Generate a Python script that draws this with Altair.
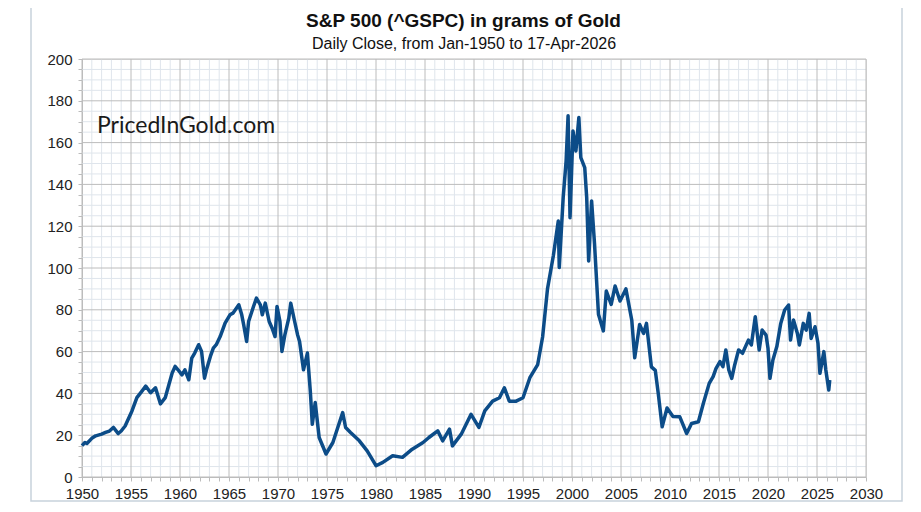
import altair as alt
import pandas as pd

# 1950-1959
years_a = [1950.0, 1950.3, 1950.5, 1951.0, 1951.4, 1952.0, 1952.4, 1952.8, 1953.2, 1953.7,
           1954.0, 1954.4, 1955.1, 1955.6, 1956.1, 1956.5, 1957.0, 1957.5, 1958.0, 1958.5,
           1959.2]
values_a = [15.0, 16.5, 16.0, 18.5, 19.7, 20.5, 21.3, 22.0, 23.7, 20.8,
            22.0, 24.4, 31.6, 38.0, 41.0, 43.5, 40.3, 42.7, 35.0, 38.0,
            49.8]
# 1959-1973
years_b = [1959.5, 1959.8, 1960.2, 1960.5, 1960.9, 1961.2, 1961.5, 1961.9, 1962.2, 1962.5,
           1962.7, 1963.1, 1963.4, 1963.7, 1964.1, 1964.6, 1965.1, 1965.4, 1966.0, 1966.3,
           1966.5, 1966.8, 1967.0, 1967.5, 1967.8, 1968.2, 1968.4, 1968.7, 1969.1, 1969.4,
           1969.7, 1969.9, 1970.2, 1970.4, 1970.7, 1971.1, 1971.3, 1971.7, 1972.0, 1972.2,
           1972.6, 1973.0, 1973.3]
values_b = [52.9, 51.3, 48.9, 51.3, 46.5, 56.9, 59.3, 63.3, 60.1, 47.3,
            51.3, 57.7, 61.7, 63.3, 67.2, 73.6, 77.6, 78.4, 82.4, 77.6,
            72.8, 64.8, 74.4, 81.6, 85.6, 82.4, 77.6, 83.2, 74.4, 71.2,
            67.2, 81.6, 74.4, 60.1, 68.0, 76.0, 83.2, 74.4, 68.0, 64.8,
            51.3, 59.3, 40.9]
# 1973-1995
years_c = [1973.5, 1973.8, 1974.2, 1974.9, 1975.6, 1976.1, 1976.6, 1976.9, 1977.4, 1978.3,
           1979.1, 1980.0, 1980.7, 1981.7, 1982.7, 1983.7, 1984.8, 1985.4, 1986.3, 1986.8,
           1987.5, 1987.8, 1988.7, 1989.7, 1990.5, 1991.1, 1991.9, 1992.6, 1993.1, 1993.6,
           1994.3, 1995.0]
values_c = [25.2, 35.6, 18.9, 11.0, 16.5, 23.7, 30.8, 23.7, 21.3, 17.3,
            12.5, 5.4, 7.0, 10.2, 9.4, 13.3, 16.5, 18.9, 22.1, 17.3,
            22.9, 14.9, 20.5, 30.0, 23.7, 31.6, 36.3, 37.9, 42.7, 36.3,
            36.3, 37.9]
# 1995-2013
years_d = [1995.7, 1996.5, 1997.0, 1997.5, 1998.1, 1998.6, 1998.7, 1999.1, 1999.4, 1999.6,
           1999.8, 2000.1, 2000.4, 2000.7, 2000.9, 2001.3, 2001.5, 2001.7, 2002.0, 2002.3,
           2002.7, 2003.2, 2003.5, 2004.0, 2004.4, 2004.9, 2005.5, 2006.1, 2006.4, 2006.9,
           2007.3, 2007.6, 2008.1, 2008.5, 2008.8, 2009.2, 2009.7, 2010.3, 2011.0, 2011.7,
           2012.2, 2012.9, 2013.4]
values_d = [47.5, 53.8, 67.0, 90.0, 106.0, 122.5, 100.2, 133.7, 151.2, 172.8,
            124.1, 165.6, 156.0, 172.0, 152.8, 148.0, 133.7, 103.4, 132.1, 111.4,
            77.9, 69.9, 89.0, 82.6, 91.4, 84.2, 90.0, 75.0, 57.0, 73.0,
            68.7, 73.5, 52.7, 51.0, 40.0, 24.0, 33.0, 29.0, 28.8, 20.8,
            25.6, 26.4, 35.2]
# 2014-2026
years_e = [2014.0, 2014.4, 2014.7, 2015.1, 2015.4, 2015.7, 2016.0, 2016.3, 2016.6, 2017.0,
           2017.4, 2018.0, 2018.3, 2018.7, 2019.1, 2019.4, 2019.8, 2020.0, 2020.2, 2020.5,
           2020.9, 2021.3, 2021.7, 2022.1, 2022.3, 2022.6, 2023.0, 2023.2, 2023.6, 2023.9,
           2024.2, 2024.4, 2024.8, 2025.1, 2025.3, 2025.7, 2025.9, 2026.2, 2026.3]
values_e = [44.8, 48.0, 52.0, 55.2, 52.8, 60.8, 51.2, 47.2, 53.6, 60.8,
            59.2, 65.5, 63.2, 76.7, 60.8, 70.3, 67.9, 61.6, 47.2, 56.0,
            62.4, 73.5, 79.9, 82.3, 65.5, 75.1, 68.7, 63.2, 73.5, 70.3,
            78.3, 66.3, 71.9, 64.0, 49.6, 60.0, 51.2, 41.6, 46.4]

years = years_a + years_b + years_c + years_d + years_e
values = values_a + values_b + values_c + values_d + values_e

x_ticks = list(range(1950, 2031))
y_ticks = list(range(0, 201, 5))
x_major = [v for v in x_ticks if v % 5 == 0]
x_minor = [v for v in x_ticks if v % 5 != 0]
y_major = [v for v in y_ticks if v % 20 == 0]
y_minor = [v for v in y_ticks if v % 20 != 0]

title_text = "S&P 500 (^GSPC) in grams of Gold"
subtitle_text = "Daily Close, from Jan-1950 to 17-Apr-2026"
watermark = "PricedInGold.com"

df = pd.DataFrame({"year": years, "value": values})

xscale = alt.Scale(domain=[1950, 2030], nice=False, zero=False)
yscale = alt.Scale(domain=[0, 200], nice=False)

minor_col = "#dfe5ec"
major_col = "#bcbcbc"

xaxis = alt.Axis(values=x_ticks, format="d", grid=False,
                 labelExpr="datum.value % 5 === 0 ? datum.label : ''",
                 labelFont="Liberation Sans", labelFontSize=15, labelColor="#222222",
                 labelPadding=5, tickSize=4, tickColor=major_col, domainColor=major_col,
                 labelOverlap=False, labelFlush=False)
yaxis = alt.Axis(values=y_ticks, grid=False,
                 labelExpr="datum.value % 20 === 0 ? datum.label : ''",
                 labelFont="Liberation Sans", labelFontSize=15, labelColor="#222222",
                 labelPadding=6, tickSize=4, tickColor=major_col, domainColor=major_col,
                 labelOverlap=False)

vminor = alt.Chart(pd.DataFrame({"g": x_minor})).mark_rule(color=minor_col, strokeWidth=1).encode(
    x=alt.X("g:Q", scale=xscale, axis=xaxis, title=None))
hminor = alt.Chart(pd.DataFrame({"g": y_minor})).mark_rule(color=minor_col, strokeWidth=1).encode(
    y=alt.Y("g:Q", scale=yscale, axis=yaxis, title=None))
vmajor = alt.Chart(pd.DataFrame({"g": x_major})).mark_rule(color=major_col, strokeWidth=1).encode(
    x=alt.X("g:Q", scale=xscale, axis=xaxis, title=None))
hmajor = alt.Chart(pd.DataFrame({"g": y_major})).mark_rule(color=major_col, strokeWidth=1).encode(
    y=alt.Y("g:Q", scale=yscale, axis=yaxis, title=None))

line = alt.Chart(df).mark_line(color="#0c4c88", strokeWidth=3.5, strokeJoin="round").encode(
    x=alt.X("year:Q", scale=xscale, title=None, axis=xaxis),
    y=alt.Y("value:Q", scale=yscale, title=None, axis=yaxis),
)

wm = alt.Chart(pd.DataFrame({"t": [watermark]})).mark_text(
    font="Lato", fontSize=23, color="#1a1a1a", align="left", baseline="alphabetic"
).encode(x=alt.value(15), y=alt.value(74), text="t:N")

ttl = alt.Chart(pd.DataFrame({"t": [title_text]})).mark_text(
    font="Liberation Sans", fontSize=19, fontWeight="bold", color="#111111",
    align="center", baseline="alphabetic"
).encode(x=alt.value(381.5), y=alt.value(-32), text="t:N")

sub = alt.Chart(pd.DataFrame({"t": [subtitle_text]})).mark_text(
    font="Liberation Sans", fontSize=16, color="#111111",
    align="center", baseline="alphabetic"
).encode(x=alt.value(382), y=alt.value(-10), text="t:N")

frame = alt.Chart(pd.DataFrame({"a": [0]})).mark_rect(
    fillOpacity=0, stroke="#c8d2dc", strokeWidth=1.5
).encode(x=alt.value(-51), x2=alt.value(820), y=alt.value(-58), y2=alt.value(442))

chart = alt.layer(vminor, hminor, vmajor, hmajor, line, wm, ttl, sub, frame).properties(
    width=784, height=418,
    autosize=alt.AutoSizeParams(type="none"),
    padding={"left": 74, "top": 51, "right": 40, "bottom": 25},
).configure_view(stroke=major_col, strokeWidth=1).configure(background="white")

chart.save("out.html", embed_options={"renderer": "svg", "actions": False})
